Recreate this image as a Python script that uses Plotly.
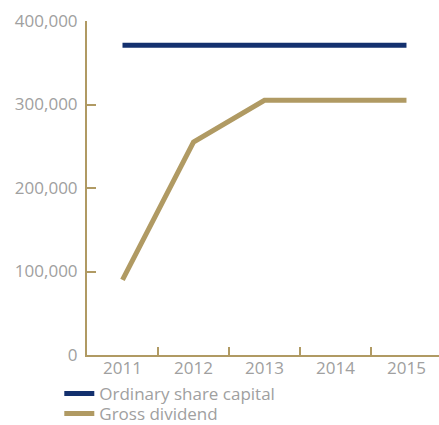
import plotly.graph_objects as go

years = ["2011", "2012", "2013", "2014", "2015"]
ordinary_share_capital = [371000, 371000, 371000, 371000, 371000]
gross_dividend = [90000, 255000, 305000, 305000, 305000]

navy = "#13306e"
gold = "#b09a63"
grey = "#a0a0a0"

fig = go.Figure()
fig.add_trace(go.Scatter(x=years, y=ordinary_share_capital, mode="lines",
                         name="Ordinary share capital", legend="legend",
                         line=dict(color=navy, width=5)))
fig.add_trace(go.Scatter(x=years, y=gross_dividend, mode="lines",
                         name="Gross dividend", legend="legend2",
                         line=dict(color=gold, width=5)))

# one legend per row so the rows can sit closer together
legend_style = dict(orientation="v", xanchor="left", yanchor="top", itemwidth=30,
                    font=dict(size=17, color=grey), bgcolor="rgba(0,0,0,0)")

fig.update_layout(
    width=439, height=425,
    margin=dict(l=87, r=0, t=21, b=70, autoexpand=False),
    paper_bgcolor="white", plot_bgcolor="white",
    font=dict(family="Open Sans", size=17, color=grey),
    showlegend=True,
    legend=dict(legend_style, x=-0.0787, y=-0.0629),
    legend2=dict(legend_style, x=-0.0787, y=-0.1228),
    xaxis=dict(type="category", range=[-0.5, 4.458], showline=True, linecolor=gold,
               linewidth=2, ticks="inside", tickson="boundaries", ticklen=8,
               tickcolor=gold, tickwidth=2, showgrid=False, zeroline=False,
               automargin=False, ticklabelstandoff=-3,
               tickfont=dict(size=17, color=grey)),
    yaxis=dict(range=[0, 400000], dtick=100000, tickformat=",", showline=True,
               linecolor=gold, linewidth=2, ticks="inside", ticklen=9,
               tickcolor=gold, tickwidth=2, showgrid=False, zeroline=False,
               automargin=False, ticklabelstandoff=4,
               tickfont=dict(size=17, color=grey)),
)

# drop the default page margin so the figure fills the window
fig.write_html("out.html", config={"displayModeBar": False},
               post_script="document.body.style.margin='0';")
